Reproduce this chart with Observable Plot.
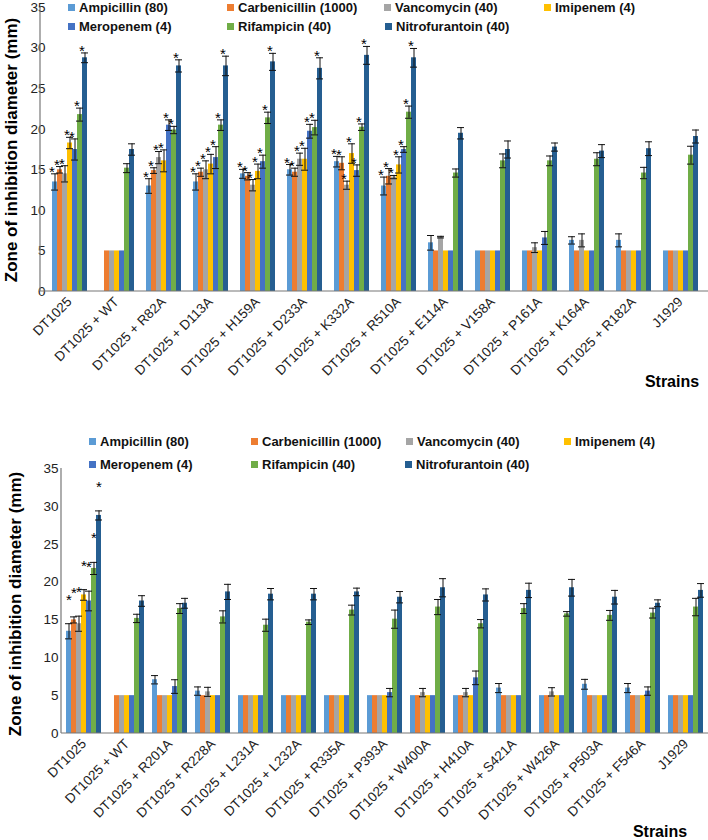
<!DOCTYPE html>
<html>
<head>
<meta charset="utf-8">
<script src="https://cdn.jsdelivr.net/npm/d3@7"></script>
<script src="https://cdn.jsdelivr.net/npm/@observablehq/plot@0.6"></script>
<style>
  body { margin: 0; background: #fff; }
  #root { position: relative; width: 708px; height: 840px; font-family: "Liberation Sans", Arial, sans-serif; overflow: hidden; }
  .chart { position: absolute; left: 0; }
  .legend { position: absolute; font-weight: bold; font-size: 13px; color: #111; white-space: nowrap; }
  .legend span.sw { display: inline-block; width: 7px; height: 7px; margin-right: 4px; vertical-align: 1px; }
  .ytitle { position: absolute; font-weight: bold; font-size: 17px; white-space: nowrap; transform: translate(-50%, -50%) rotate(-90deg); color: #000; }
  .xtitle { position: absolute; font-weight: bold; font-size: 16px; white-space: nowrap; transform: translate(-50%, -50%); color: #000; }
</style>
</head>
<body>
<div id="root"></div>
<script>
// ---------- shared ----------
const seriesNames = ["Ampicillin (80)", "Carbenicillin (1000)", "Vancomycin (40)", "Imipenem (4)", "Meropenem (4)", "Rifampicin (40)", "Nitrofurantoin (40)"];
const seriesColors = ["#5B9BD5", "#ED7D31", "#A5A5A5", "#FFC000", "#4472C4", "#70AD47", "#255E91"];
const yTicks = [0, 5, 10, 15, 20, 25, 30, 35];

// ---------- top panel ----------
const topStrains = ["DT1025", "DT1025 + WT", "DT1025 + R82A", "DT1025 + D113A", "DT1025 + H159A", "DT1025 + D233A", "DT1025 + K332A", "DT1025 + R510A", "DT1025 + E114A", "DT1025 + V158A", "DT1025 + P161A", "DT1025 + K164A", "DT1025 + R182A", "J1929"];
const topAmp      = [13.5, 0, 13.0, 13.5, 14.5, 15.0, 16.0, 13.0, 6.0, 5, 5, 6.3, 6.3, 5];
const topAmpErr   = [1.0, 0, 0.9, 1.0, 0.55, 0.65, 0.65, 1.1, 0.9, 0, 0, 0.45, 0.8, 0];
const topCarb     = [15.0, 5, 14.9, 14.7, 14.2, 14.7, 15.8, 14.2, 5, 5, 5, 5, 5, 5];
const topCarbErr  = [0.4, 0, 0.35, 0.5, 0.45, 0.5, 0.8, 0.95, 0, 0, 0, 0, 0, 0];
const topVanc     = [14.5, 5, 16.5, 15.0, 13.1, 16.3, 13.1, 14.1, 6.7, 5, 5.4, 6.3, 5, 5];
const topVancErr  = [1.0, 0, 0.75, 1.1, 0.7, 0.75, 0.5, 0.2, 0.1, 0, 0.6, 0.8, 0, 0];
const topImi      = [18.3, 5, 16.1, 15.7, 14.8, 16.3, 17.0, 15.6, 5, 5, 5, 5, 5, 5];
const topImiErr   = [0.7, 0, 1.35, 1.2, 0.9, 1.35, 1.2, 1.0, 0, 0, 0, 0, 0, 0];
const topMero     = [17.5, 5, 20.5, 16.5, 16.0, 19.75, 14.9, 17.5, 5, 5, 6.6, 5, 5, 5];
const topMeroErr  = [1.3, 0, 0.65, 1.35, 0.8, 0.85, 0.7, 0.35, 0, 0, 0.8, 0, 0, 0];
const topRif      = [21.8, 15.2, 19.9, 20.5, 21.4, 20.2, 20.25, 22.1, 14.6, 16.1, 16.1, 16.3, 14.6, 16.8];
const topRifErr   = [0.8, 0.55, 0.45, 0.65, 0.7, 0.9, 0.4, 0.75, 0.5, 0.85, 0.6, 0.8, 0.7, 1.1];
const topNitro    = [28.8, 17.5, 27.8, 27.8, 28.3, 27.5, 29.1, 28.8, 19.5, 17.5, 17.8, 17.3, 17.6, 19.1];
const topNitroErr = [0.6, 0.7, 0.75, 1.2, 1.05, 1.3, 1.1, 1.15, 0.7, 1.05, 0.5, 0.8, 0.85, 0.8];
const topStarred  = ["DT1025", "DT1025 + R82A", "DT1025 + D113A", "DT1025 + H159A", "DT1025 + D233A", "DT1025 + K332A", "DT1025 + R510A"];

// ---------- bottom panel ----------
const botStrains = ["DT1025", "DT1025 + WT", "DT1025 + R201A", "DT1025 + R228A", "DT1025 + L231A", "DT1025 + L232A", "DT1025 + R335A", "DT1025 + P393A", "DT1025 + W400A", "DT1025 + H410A", "DT1025 + S421A", "DT1025 + W426A", "DT1025 + P503A", "DT1025 + F546A", "J1929"];
const botAmp      = [13.5, 0, 7.1, 5.6, 5, 5, 5, 5, 5, 5, 6.0, 5, 6.5, 6.0, 5];
const botAmpErr   = [1.0, 0, 0.55, 0.55, 0, 0, 0, 0, 0, 0, 0.6, 0, 0.65, 0.6, 0];
const botCarb     = [15.0, 5, 5, 5, 5, 5, 5, 5, 5, 5, 5, 5, 5, 5, 5];
const botCarbErr  = [0.4, 0, 0, 0, 0, 0, 0, 0, 0, 0, 0, 0, 0, 0, 0];
const botVanc     = [14.5, 5, 5, 5.5, 5, 5, 5, 5, 5.4, 5.4, 5, 5.5, 5, 5, 5];
const botVancErr  = [1.0, 0, 0, 0.6, 0, 0, 0, 0, 0.55, 0.55, 0, 0.55, 0, 0, 0];
const botImi      = [18.3, 5, 5, 5, 5, 5, 5, 5, 5, 5, 5, 5, 5, 5, 5];
const botImiErr   = [0.7, 0, 0, 0, 0, 0, 0, 0, 0, 0, 0, 0, 0, 0, 0];
const botMero     = [17.5, 5, 6.2, 5, 5, 5, 5, 5.4, 5, 7.35, 5, 5, 5, 5.6, 5];
const botMeroErr  = [1.3, 0, 0.9, 0, 0, 0, 0, 0.55, 0, 0.9, 0, 0, 0, 0.55, 0];
const botRif      = [21.8, 15.2, 16.5, 15.4, 14.3, 14.7, 16.3, 15.1, 16.7, 14.5, 16.5, 15.8, 15.6, 15.9, 16.7];
const botRifErr   = [0.8, 0.55, 0.65, 0.8, 0.8, 0.3, 0.65, 1.2, 1.0, 0.55, 0.65, 0.3, 0.65, 0.65, 1.15];
const botNitro    = [28.8, 17.5, 17.2, 18.7, 18.4, 18.4, 18.7, 18.0, 19.25, 18.3, 18.9, 19.25, 18.0, 17.2, 18.9];
const botNitroErr = [0.6, 0.7, 0.65, 1.0, 0.75, 0.75, 0.5, 0.75, 1.2, 0.8, 0.95, 1.1, 0.9, 0.45, 0.9];
const botStarred  = ["DT1025"];

function tidy(strains, vals, errs, starred) {
  const out = [];
  strains.forEach((s, i) => seriesNames.forEach((n, j) => {
    out.push({strain: s, series: n, value: vals[j][i], err: errs[j][i], star: starred.includes(s)});
  }));
  return out;
}

function makeChart(o) {
  const data = tidy(o.strains, o.vals, o.errs, o.starred);
  const withErr = data.filter(d => d.err > 0);
  const chart = Plot.plot({
    width: 708, height: o.height,
    marginLeft: o.marginLeft, marginRight: 0, marginTop: o.marginTop, marginBottom: o.marginBottom,
    style: {fontFamily: "'Liberation Sans', Arial, sans-serif", fontSize: "13.5px", color: "#222", overflow: "visible", background: "transparent"},
    fx: {domain: o.strains, paddingInner: o.pad, paddingOuter: o.pad / 2, label: null},
    x: {domain: seriesNames, padding: 0, axis: null},
    y: {domain: [0, 35], label: null},
    color: {domain: seriesNames, range: seriesColors},
    marks: [
      Plot.axisY({ticks: yTicks, tickSize: 0, tickPadding: o.tickPad, label: null, fontSize: 13.5}),
      Plot.axisFx({anchor: "bottom", tickRotate: -45, tickSize: 0, tickPadding: 8, label: null, fontSize: 13.5}),
      Plot.barY(data, {fx: "strain", x: "series", y: "value", fill: "series"}),
      Plot.ruleX(withErr, {fx: "strain", x: "series", y1: d => d.value - d.err, y2: d => d.value + d.err, stroke: "#111", strokeWidth: 1}),
      Plot.tickY(withErr, {fx: "strain", x: "series", y: d => d.value + d.err, stroke: "#111", strokeWidth: 1, insetLeft: -1, insetRight: -1}),
      Plot.tickY(withErr, {fx: "strain", x: "series", y: d => d.value - d.err, stroke: "#111", strokeWidth: 1, insetLeft: -1, insetRight: -1}),
      Plot.text(data.filter(d => d.star), {fx: "strain", x: "series", y: d => d.value + d.err, text: () => "*", lineAnchor: "bottom", dx: o.starDx, dy: o.starDy, fontSize: 15, fill: "#000"})
    ]
  });
  // axis lines from the plot's own scales
  const y = chart.scale("y");
  const y0 = y.apply(0), yTop = y.apply(35);
  const svg = d3.select(chart);
  svg.append("line").attr("x1", o.marginLeft).attr("x2", 708).attr("y1", y0).attr("y2", y0).attr("stroke", "#777").attr("stroke-width", 1.2);
  svg.append("line").attr("x1", o.marginLeft).attr("x2", o.marginLeft).attr("y1", yTop).attr("y2", y0).attr("stroke", "#777").attr("stroke-width", 1.2);
  return chart;
}

const root = document.getElementById("root");

function place(el, top) {
  const wrap = document.createElement("div");
  wrap.className = "chart";
  wrap.style.top = top + "px";
  wrap.appendChild(el);
  root.appendChild(wrap);
}

place(makeChart({
  strains: topStrains,
  vals: [topAmp, topCarb, topVanc, topImi, topMero, topRif, topNitro],
  errs: [topAmpErr, topCarbErr, topVancErr, topImiErr, topMeroErr, topRifErr, topNitroErr],
  starred: topStarred, height: 395, marginLeft: 40, marginTop: 7, marginBottom: 104,
  pad: 0.24, tickPad: 6, starDx: -3, starDy: 3
}), 0);

place(makeChart({
  strains: botStrains,
  vals: [botAmp, botCarb, botVanc, botImi, botMero, botRif, botNitro],
  errs: [botAmpErr, botCarbErr, botVancErr, botImiErr, botMeroErr, botRifErr, botNitroErr],
  starred: botStarred, height: 420, marginLeft: 61, marginTop: 68, marginBottom: 87,
  pad: 0.19, tickPad: 8, starDx: 0, starDy: -19
}), 400);

// legends
function legend(items, positions) {
  items.forEach((name, i) => {
    const [x, y] = positions[i];
    const d = document.createElement("div");
    d.className = "legend";
    d.style.left = x + "px";
    d.style.top = (y - 8) + "px";
    d.innerHTML = `<span class="sw" style="background:${seriesColors[i]}"></span>${name}`;
    root.appendChild(d);
  });
}
legend(seriesNames, [[68, 8], [227, 8], [384, 8], [544, 8], [68, 27], [227, 27], [385, 27]]);
legend(seriesNames, [[89, 442], [251, 442], [406, 442], [564, 442], [89, 465], [251, 465], [405, 465]]);

function addText(cls, text, x, y) {
  const d = document.createElement("div");
  d.className = cls;
  d.style.left = x + "px";
  d.style.top = y + "px";
  d.textContent = text;
  root.appendChild(d);
}
addText("ytitle", "Zone of inhibition diameter (mm)", 12, 150);
addText("ytitle", "Zone of inhibition diameter (mm)", 16, 604);
addText("xtitle", "Strains", 672, 382);
addText("xtitle", "Strains", 660, 832);
</script>
</body>
</html>
